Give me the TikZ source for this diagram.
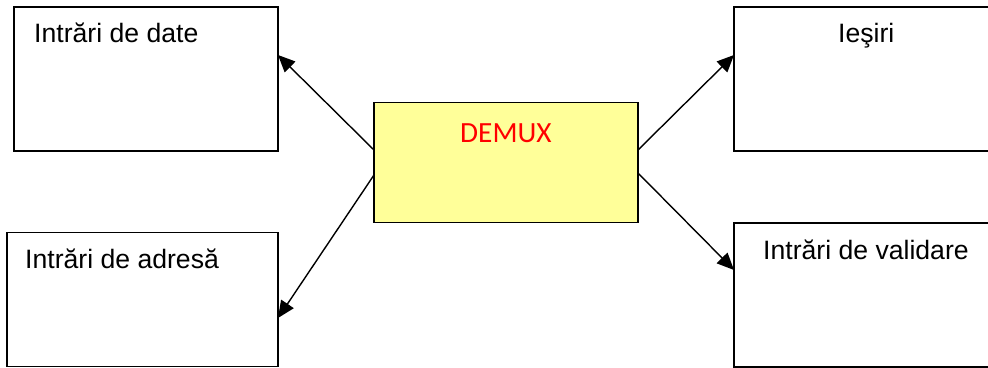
\documentclass[tikz,border=0pt]{standalone}
\usepackage{fontspec}
\setmainfont{Liberation Sans}
\newfontfamily\calib{Carlito}
\usetikzlibrary{arrows.meta}
\definecolor{demuxfill}{HTML}{FFFF99}
\tikzset{
 boxa/.style={draw=black,line width=1.5pt,fill=white,inner sep=0pt,anchor=north west},
 lbl/.style={font=\fontsize{26.6}{30}\selectfont,text=black,inner sep=0pt,anchor=base west},
 arr/.style={-{Triangle[length=17pt,width=15pt]},line width=1.4pt,black}
}
\begin{document}
\begin{tikzpicture}[x=1pt,y=-1pt]
\useasboundingbox (0,0) rectangle (988,367);
\node[boxa,minimum width=264pt,minimum height=144pt] (da) at (13.4,6.4) {};
\node[boxa,minimum width=271.4pt,minimum height=134pt] (ad) at (6,231.6) {};
\node[boxa,fill=demuxfill,minimum width=264pt,minimum height=120pt] (dm) at (373.4,101.6) {};
\node[boxa,minimum width=260pt,minimum height=144pt] (ie) at (733.4,6.4) {};
\node[boxa,minimum width=260pt,minimum height=144pt] (va) at (733.4,222.4) {};
\node[lbl] (t1) at (34,42.2) {Intrări de date};
\node[lbl] (t2) at (25,268.2) {Intrări de adresă};
\node[lbl] (t3) at (838,42.2) {Ieşiri};
\node[lbl] (t4) at (763,259.2) {Intrări de validare};
\node[lbl,text=red,font=\calib\fontsize{29.3}{32}\selectfont] (t5) at (460,142) {DEMUX};
\coordinate (p1) at (374,150);
\coordinate (p2) at (374,175);
\coordinate (p3) at (638,150);
\coordinate (p4) at (638,173);
\coordinate (e1) at (278,55);
\coordinate (e2) at (278,318);
\coordinate (e3) at (734,55);
\coordinate (e4) at (734,270);
\draw[arr] (p1) -- (e1);
\draw[arr] (p2) -- (e2);
\draw[arr] (p3) -- (e3);
\draw[arr] (p4) -- (e4);
\end{tikzpicture}
\end{document}
